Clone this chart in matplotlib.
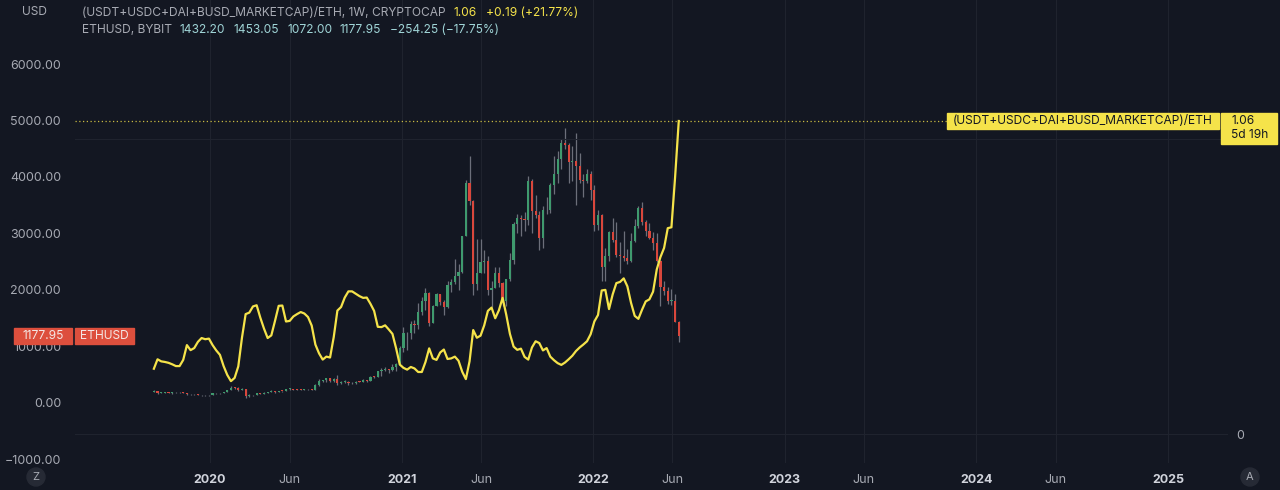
import matplotlib
matplotlib.use("Agg")
import matplotlib.pyplot as plt
import matplotlib.dates as mdates
from matplotlib.patches import Rectangle, Circle
import numpy as np
import pandas as pd

# weekly bars, ETHUSD (Bybit) and the stablecoin / ETH ratio
weeks = pd.date_range("2019-09-16", periods=144, freq="7D")

eth_open = [197, 211, 174, 180, 187, 168, 182, 187, 184, 178, 151, 148, 148, 142, 132, 130,
            143, 166, 167, 170, 189, 224, 268, 262, 226, 237, 123, 132, 133, 170, 158, 170,
            197, 211, 187, 207, 205, 243, 245, 233, 228, 225, 241, 239, 233, 310, 387, 395,
            430, 391, 428, 353, 365, 372, 355, 341, 372, 367, 405, 385, 460, 458, 555, 575,
            595, 575, 640, 685, 975, 1230, 1230, 1390, 1375, 1610, 1810, 1940, 1420, 1720, 1920, 1790,
            1690, 2080, 2140, 2240, 2310, 2950, 3900, 3580, 2100, 2300, 2500, 2510, 1990, 2040, 2300, 2130,
            1800, 2190, 2530, 3170, 3270, 3250, 3230, 3930, 3400, 3330, 2920, 3420, 3410, 3850, 4050, 4310,
            4610, 4560, 4260, 4290, 4190, 3950, 3920, 4050, 3770, 3150, 3330, 2400, 2600, 3020, 2880, 2620,
            2600, 2560, 2520, 2860, 3140, 3450, 3200, 3050, 2920, 2830, 2520, 2050, 1980, 1800, 1810, 1432.20]

eth_high = [225, 212, 184, 198, 193, 197, 192, 195, 190, 180, 156, 151, 150, 143, 135, 145,
            172, 175, 172, 190, 228, 288, 287, 276, 253, 238, 146, 140, 175, 175, 190, 197,
            227, 215, 212, 215, 245, 253, 250, 240, 248, 245, 250, 242, 325, 415, 400, 445,
            440, 435, 490, 390, 395, 380, 370, 380, 390, 420, 410, 470, 480, 565, 623, 635,
            600, 690, 700, 1000, 1350, 1260, 1440, 1470, 1760, 1870, 2040, 1960, 1730, 1950, 1930, 1820,
            2150, 2200, 2550, 2450, 2950, 3950, 4380, 3600, 2900, 2900, 2700, 2600, 2150, 2400, 2400, 2140,
            2200, 2650, 3200, 3350, 3330, 3380, 4020, 3960, 3680, 3400, 3480, 3650, 3900, 4380, 4460, 4670,
            4870, 4600, 4550, 4780, 4430, 4050, 4150, 4100, 3860, 3420, 3350, 2750, 3050, 3280, 3200, 2850,
            3050, 2730, 3000, 3250, 3480, 3550, 3230, 3180, 3030, 3000, 2530, 2150, 2050, 2020, 1920, 1453.05]

eth_low = [195, 155, 170, 178, 166, 160, 175, 180, 175, 140, 140, 144, 140, 117, 124, 127,
           138, 160, 156, 165, 186, 221, 247, 212, 222, 90, 108, 124, 130, 150, 150, 168,
           193, 180, 185, 195, 200, 230, 217, 225, 217, 222, 234, 228, 233, 300, 365, 370,
           375, 375, 308, 330, 355, 310, 330, 335, 360, 365, 370, 377, 440, 450, 480, 560,
           530, 570, 560, 680, 900, 930, 1130, 1240, 1300, 1560, 1640, 1360, 1410, 1710, 1730, 1550,
           1680, 1960, 2100, 2000, 2300, 2950, 3500, 1900, 2000, 2300, 2300, 1900, 1700, 2030, 2050, 1720,
           1720, 2160, 2460, 3000, 2950, 3050, 3150, 3000, 3270, 2700, 2740, 3350, 3360, 3700, 3900, 4150,
           4500, 3900, 3920, 3500, 3900, 3650, 3900, 3600, 3050, 3060, 2150, 2160, 2520, 2850, 2580, 2300,
           2520, 2450, 2500, 2850, 3100, 3150, 2950, 2900, 2700, 2500, 1720, 1900, 1750, 1740, 1430, 1072.00]

eth_close = [211, 174, 180, 187, 168, 182, 187, 184, 178, 151, 148, 148, 142, 132, 130, 143,
             166, 167, 170, 189, 224, 268, 262, 226, 237, 123, 132, 133, 170, 158, 170, 197,
             211, 187, 207, 205, 243, 245, 233, 228, 225, 241, 239, 233, 310, 387, 395, 430,
             391, 428, 353, 365, 372, 355, 341, 372, 367, 405, 385, 460, 458, 555, 575, 595,
             575, 640, 685, 975, 1230, 1230, 1390, 1375, 1610, 1810, 1940, 1420, 1720, 1920, 1790, 1690,
             2080, 2140, 2240, 2310, 2950, 3900, 3580, 2100, 2300, 2500, 2510, 1990, 2040, 2300, 2130, 1800,
             2190, 2530, 3170, 3270, 3250, 3230, 3930, 3400, 3330, 2920, 3420, 3410, 3850, 4050, 4310, 4610,
             4560, 4260, 4290, 4190, 3950, 3920, 4050, 3770, 3150, 3330, 2400, 2600, 3020, 2880, 2620, 2600,
             2560, 2520, 2860, 3140, 3450, 3200, 3050, 2920, 2830, 2520, 2050, 1980, 1800, 1810, 1432.20, 1177.95]

ratio = [0.221, 0.253, 0.246, 0.244, 0.241, 0.236, 0.230, 0.230, 0.251, 0.301,
         0.284, 0.291, 0.312, 0.325, 0.321, 0.323, 0.301, 0.283, 0.268, 0.230,
         0.200, 0.179, 0.190, 0.229, 0.326, 0.406, 0.411, 0.432, 0.436, 0.394,
         0.357, 0.325, 0.334, 0.383, 0.434, 0.435, 0.381, 0.383, 0.398, 0.406,
         0.413, 0.408, 0.396, 0.367, 0.303, 0.273, 0.252, 0.262, 0.259, 0.328,
         0.418, 0.430, 0.462, 0.483, 0.483, 0.475, 0.467, 0.461, 0.462, 0.441,
         0.417, 0.363, 0.362, 0.368, 0.354, 0.339, 0.290, 0.235, 0.224, 0.218,
         0.227, 0.222, 0.210, 0.210, 0.244, 0.290, 0.256, 0.251, 0.276, 0.286,
         0.254, 0.256, 0.262, 0.248, 0.211, 0.186, 0.246, 0.352, 0.326, 0.333,
         0.368, 0.417, 0.428, 0.392, 0.419, 0.461, 0.404, 0.339, 0.296, 0.285,
         0.289, 0.261, 0.252, 0.293, 0.314, 0.308, 0.283, 0.291, 0.262, 0.250,
         0.240, 0.234, 0.242, 0.253, 0.265, 0.281, 0.293, 0.303, 0.314, 0.338,
         0.381, 0.403, 0.486, 0.488, 0.423, 0.473, 0.511, 0.515, 0.527, 0.500,
         0.444, 0.400, 0.390, 0.421, 0.449, 0.456, 0.482, 0.557, 0.599, 0.630,
         0.697, 0.700, 0.870, 1.060]

year_labels = ["2020", "2021", "2022", "2023", "2024", "2025"]
jun_dates = ["2020-06-01", "2021-06-01", "2022-06-01", "2023-06-01", "2024-06-01"]
price_ticks = [-1000, 0, 1000, 2000, 3000, 4000, 5000, 6000]

BG = "#131722"
TXT = "#a7aab3"
GRID = "#1f232e"
UP = "#3f9a6e"
DOWN = "#d9473c"
WICK = "#6c6f7a"
YEL = "#f5e34a"
TAG_RED = "#dd4f3d"
FS = 8.6

plt.rcParams["font.family"] = ["Inter", "DejaVu Sans"]

W, H = 1280, 490
fig = plt.figure(figsize=(W / 100, H / 100), dpi=100, facecolor=BG)
ax = fig.add_axes([75 / W, 27 / H, 1153 / W, 463 / H])
ax.set_facecolor(BG)
for s in ax.spines.values():
    s.set_visible(False)

x = mdates.date2num(weeks)
o = np.array(eth_open)
hi = np.array(eth_high)
lo = np.array(eth_low)
c = np.array(eth_close)
up = c >= o
body_lo = np.minimum(o, c)
body_h = np.maximum(np.abs(c - o), 12)

ax.vlines(x, lo, hi, color=WICK, lw=0.9, zorder=2)
ax.bar(x[up], body_h[up], bottom=body_lo[up], width=4.2, color=UP, lw=0, zorder=3)
ax.bar(x[~up], body_h[~up], bottom=body_lo[~up], width=4.2, color=DOWN, lw=0, zorder=3)

ax.set_xticks(mdates.date2num(pd.to_datetime([f"{y}-01-01" for y in year_labels])))
ax.set_xticklabels(year_labels, fontweight="bold", color="#d1d4dc")
ax.set_xticks(mdates.date2num(pd.to_datetime(jun_dates)), minor=True)
ax.set_xticklabels(["Jun"] * len(jun_dates), minor=True, color=TXT)
ax.tick_params(axis="x", which="both", length=0, pad=8, labelsize=9)
ax.grid(axis="x", which="both", color=GRID, lw=0.8)

# limits after the ticks, so the ticks do not widen the view
x0 = mdates.date2num(pd.Timestamp("2020-01-01"))
ax.set_xlim(x0 - 257.4, x0 + 1941.4)
ax.set_ylim(-1068, 7136)

ax.set_yticks(price_ticks)
ax.set_yticklabels([f"{v:.2f}".replace("-", "\u2212") for v in price_ticks], color=TXT)
ax.tick_params(axis="y", length=0, pad=10, labelsize=9)
ax.set_ylim(-1068, 7136)

# right scale for the ratio
ax2 = ax.twinx()
ax2.set_ylim(-0.0982, 1.4697)
for s in ax2.spines.values():
    s.set_visible(False)
for lvl in (0, 1):
    ax2.axhline(lvl, color=GRID, lw=0.8, zorder=0)
ax2.plot(x, ratio, color=YEL, lw=1.6, zorder=5, solid_joinstyle="round")
ax2.axhline(ratio[-1], xmax=(947 - 75) / 1153, color=YEL, lw=0.9, ls=(0, (1, 2)), alpha=0.8)
ax2.set_yticks([0])
ax2.set_yticklabels(["0"], color=TXT)
ax2.tick_params(axis="y", length=0, pad=6, labelsize=9)
ax2.set_ylim(-0.0982, 1.4697)
ax.set_xlim(x0 - 257.4, x0 + 1941.4)

# overlay in pixel coordinates for labels
ov = fig.add_axes([0, 0, 1, 1], zorder=10)
ov.set_xlim(0, W)
ov.set_ylim(H, 0)
ov.axis("off")


def to_px(axis, xv, yv):
    dx, dy = axis.transData.transform((xv, yv))
    return dx, H - dy


_, y_ratio = to_px(ax2, x[-1], ratio[-1])
_, y_eth = to_px(ax, x[-1], c[-1])

ov.add_patch(Rectangle((947, y_ratio - 8), 272, 16, color=YEL))
ov.text(953, y_ratio, "(USDT+USDC+DAI+BUSD_MARKETCAP)/ETH", va="center", ha="left",
        fontsize=FS, color="#131722")
ov.add_patch(Rectangle((1221, y_ratio - 8), 56, 31, color=YEL))
ov.text(1231, y_ratio, f"{ratio[-1]:.2f}", va="center", fontsize=FS, color="#131722")
ov.text(1231, y_ratio + 14, "5d 19h", va="center", fontsize=FS, color="#131722")

ov.add_patch(Rectangle((14, y_eth - 8), 58, 16, color=TAG_RED))
ov.text(43, y_eth, f"{c[-1]:.2f}", ha="center", va="center", fontsize=FS, color="#f4e6e4")
ov.add_patch(Rectangle((75, y_eth - 8), 59, 16, color=TAG_RED))
ov.text(104.5, y_eth, "ETHUSD", ha="center", va="center", fontsize=FS, color="#f4e6e4")

# header legend
ov.text(22, 12, "USD", va="center", fontsize=FS, color=TXT)
ov.text(82, 13, "(USDT+USDC+DAI+BUSD_MARKETCAP)/ETH, 1W, CRYPTOCAP", va="center", fontsize=FS, color=TXT)
ov.text(454, 13, "1.06", va="center", fontsize=FS, color=YEL)
ov.text(486, 13, "+0.19 (+21.77%)", va="center", fontsize=FS, color=YEL)

CYAN = "#9fd4d6"
chg = c[-1] - c[-2]
ov.text(82, 30, "ETHUSD, BYBIT", va="center", fontsize=FS, color=TXT)
ov.text(180, 30, f"{o[-1]:.2f}", va="center", fontsize=FS, color=CYAN)
ov.text(233, 30, f"{hi[-1]:.2f}", va="center", fontsize=FS, color=CYAN)
ov.text(287, 30, f"{lo[-1]:.2f}", va="center", fontsize=FS, color=CYAN)
ov.text(340, 30, f"{c[-1]:.2f}", va="center", fontsize=FS, color=CYAN)
ov.text(390, 30, f"{chg:.2f} ({chg / c[-2] * 100:.2f}%)".replace("-", "\u2212"),
        va="center", fontsize=FS, color=CYAN)

for cx, letter in ((36, "Z"), (1250, "A")):
    ov.add_patch(Circle((cx, 477), 9, color="#262a35"))
    ov.text(cx, 477, letter, ha="center", va="center", fontsize=8, color=TXT)

fig.savefig("out.png", dpi=100, facecolor=BG)
